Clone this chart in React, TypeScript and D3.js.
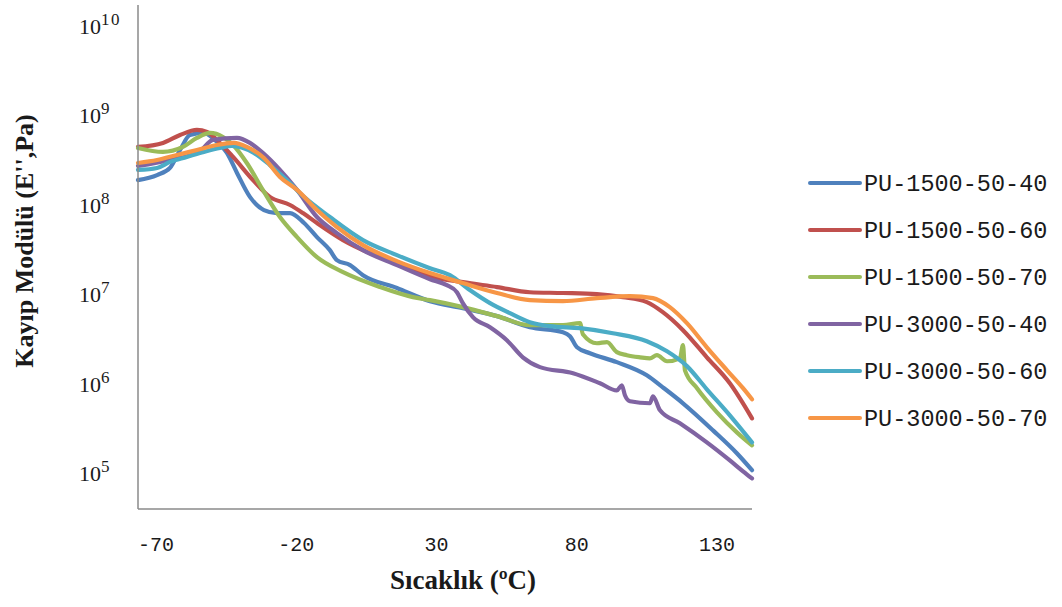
import React from 'react';
import * as d3 from 'd3';

// Loss modulus E'' (Pa) against temperature (°C) for six PU formulations
const seriesNames = [
  'PU-1500-50-40',
  'PU-1500-50-60',
  'PU-1500-50-70',
  'PU-3000-50-40',
  'PU-3000-50-60',
  'PU-3000-50-70',
];

const tempPU1500_40 = [-76.4, -69.6, -65.0, -61.4, -57.9, -52.9, -49.0, -44.7, -41.1, -36.5, -31.5, -26.9, -22.2, -17.2, -12.6, -8.0, -5.5, -0.8, 3.8, 15.9, 27.7, 39.4, 51.6, 63.3, 75.1, 77.6, 80.1, 84.7, 94.3, 105.0, 110.7, 117.9, 128.6, 137.1, 142.5];
const lossPU1500_40 = [1.88e8, 2.14e8, 2.57e8, 4.08e8, 6.0e8, 6.32e8, 5.28e8, 3.78e8, 2.26e8, 1.22e8, 8.7e7, 8.05e7, 8.05e7, 6.23e7, 4.34e7, 3.1e7, 2.4e7, 2.11e7, 1.63e7, 1.17e7, 8.35e6, 6.97e6, 5.68e6, 4.27e6, 3.76e6, 3.39e6, 2.55e6, 2.19e6, 1.74e6, 1.24e6, 9.1e5, 6.04e5, 3.01e5, 1.67e5, 1.08e5];

const tempPU1500_60 = [-76.4, -67.5, -61.4, -55.4, -51.8, -47.2, -42.5, -35.4, -29.4, -22.2, -17.6, -12.6, -3.3, 6.3, 15.9, 27.7, 39.4, 51.6, 63.3, 75.1, 87.2, 96.5, 105.0, 110.7, 117.9, 126.4, 134.6, 142.5];
const lossPU1500_60 = [4.41e8, 4.89e8, 6.0e8, 6.83e8, 6.49e8, 4.89e8, 3.41e8, 1.88e8, 1.22e8, 9.9e7, 8.05e7, 6.23e7, 4.02e7, 2.87e7, 2.22e7, 1.59e7, 1.36e7, 1.2e7, 1.05e7, 1.03e7, 1.0e7, 9.26e6, 8.14e6, 6.29e6, 3.96e6, 1.97e6, 1.01e6, 4.1e5];

const tempPU1500_70 = [-76.4, -67.5, -60.4, -55.4, -50.7, -46.1, -42.5, -37.6, -31.9, -25.8, -19.7, -12.6, -3.3, 9.9, 21.6, 27.7, 39.4, 51.6, 63.3, 75.1, 81.2, 82.2, 87.2, 90.8, 94.3, 97.9, 102.6, 106.1, 108.6, 112.2, 116.8, 117.9, 118.6, 122.9, 130.0, 137.1, 142.5];
const lossPU1500_70 = [4.3e8, 3.88e8, 4.41e8, 5.56e8, 6.32e8, 5.7e8, 4.64e8, 2.92e8, 1.46e8, 7.27e7, 4.34e7, 2.59e7, 1.76e7, 1.2e7, 9.26e6, 8.57e6, 7.16e6, 5.68e6, 4.5e6, 4.5e6, 4.74e6, 3.57e6, 2.83e6, 2.91e6, 2.25e6, 2.08e6, 1.97e6, 1.92e6, 2.08e6, 1.78e6, 1.92e6, 2.69e6, 1.41e6, 8.9e5, 4.79e5, 2.86e5, 2.05e5];

const tempPU3000_40 = [-76.4, -65.0, -54.3, -49.7, -41.1, -36.5, -31.9, -25.8, -19.7, -12.6, -5.5, 3.8, 15.9, 27.7, 33.7, 37.3, 39.4, 43.0, 49.1, 55.1, 60.8, 66.9, 78.7, 88.3, 94.3, 96.1, 97.2, 99.0, 106.1, 107.2, 109.7, 116.8, 126.4, 134.6, 139.3, 142.5];
const lossPU3000_40 = [2.7e8, 3.15e8, 3.98e8, 5.28e8, 5.56e8, 4.89e8, 3.78e8, 2.44e8, 1.46e8, 7.27e7, 4.81e7, 3.1e7, 2.11e7, 1.47e7, 1.26e7, 1.05e7, 7.93e6, 5.53e6, 4.27e6, 3.06e6, 1.97e6, 1.53e6, 1.31e6, 1.01e6, 8.4e5, 9.6e5, 7.42e5, 6.36e5, 6.04e5, 7.23e5, 5.04e5, 3.61e5, 2.21e5, 1.39e5, 1.05e5, 8.75e4];

const tempPU3000_60 = [-76.4, -69.6, -65.0, -59.0, -52.9, -47.2, -42.9, -35.1, -29.4, -23.3, -17.2, -8.0, 3.8, 15.9, 27.7, 34.8, 41.9, 49.1, 56.2, 63.3, 70.5, 81.2, 92.9, 105.0, 112.2, 119.3, 126.4, 134.6, 142.5];
const lossPU3000_60 = [2.44e8, 2.57e8, 3.0e8, 3.41e8, 3.88e8, 4.3e8, 4.52e8, 3.78e8, 2.77e8, 1.88e8, 1.22e8, 7.27e7, 4.02e7, 2.73e7, 1.95e7, 1.63e7, 1.11e7, 7.93e6, 6.13e6, 4.86e6, 4.39e6, 4.17e6, 3.66e6, 2.98e6, 2.3e6, 1.57e6, 8.66e5, 4.43e5, 2.21e5];

const tempPU3000_70 = [-76.4, -69.6, -62.5, -55.4, -48.3, -42.2, -37.6, -31.5, -25.8, -19.7, -12.6, -5.5, 3.8, 15.9, 27.7, 39.4, 51.6, 63.3, 75.1, 87.2, 99.0, 107.2, 113.2, 119.3, 126.4, 133.6, 139.3, 142.5];
const lossPU3000_70 = [2.92e8, 3.15e8, 3.59e8, 4.08e8, 4.64e8, 4.89e8, 4.41e8, 3.32e8, 2.04e8, 1.46e8, 8.7e7, 5.62e7, 3.53e7, 2.34e7, 1.72e7, 1.33e7, 1.03e7, 8.57e6, 8.35e6, 9.02e6, 9.5e6, 9.02e6, 7.16e6, 4.74e6, 2.55e6, 1.41e6, 8.9e5, 6.69e5];

const xTicks = [-70, -20, 30, 80, 130];
const yTickExponents = [5, 6, 7, 8, 9, 10];

const seriesColors = ['#4F81BD', '#C0504D', '#9BBB59', '#8064A2', '#4BACC6', '#F79646'];

const seriesTemps = [tempPU1500_40, tempPU1500_60, tempPU1500_70, tempPU3000_40, tempPU3000_60, tempPU3000_70];
const seriesLoss = [lossPU1500_40, lossPU1500_60, lossPU1500_70, lossPU3000_40, lossPU3000_60, lossPU3000_70];

const W = 1062;
const H = 607;
const plot = { left: 138, right: 752, top: 5, bottom: 509 };

export default function App() {
  const x = d3.scaleLinear().domain([-76.4, 142.5]).range([plot.left, plot.right]);
  const y = d3
    .scaleLog()
    .domain([Math.pow(10, 4.6), Math.pow(10, 10.23)])
    .range([plot.bottom, plot.top]);

  const line = d3
    .line<[number, number]>()
    .x((d) => x(d[0]))
    .y((d) => y(d[1]))
    .curve(d3.curveMonotoneX);

  const paths = seriesNames.map((name, i) => {
    const pts: [number, number][] = seriesTemps[i].map((t, j) => [t, seriesLoss[i][j]]);
    return { name, color: seriesColors[i], d: line(pts) || '' };
  });

  const legendX = 810;
  const legendY0 = 183;
  const legendStep = 47;

  return (
    <svg
      width={W}
      height={H}
      viewBox={`0 0 ${W} ${H}`}
      style={{ position: 'absolute', left: 0, top: 0, background: '#fff' }}
    >
      <rect x={0} y={0} width={W} height={H} fill="#fff" />

      {/* curves */}
      <g fill="none" strokeWidth={4.2} strokeLinejoin="round" strokeLinecap="round">
        {paths.map((p) => (
          <path key={p.name} d={p.d} stroke={p.color} />
        ))}
      </g>

      {/* axes */}
      <line x1={plot.left} x2={plot.left} y1={plot.top} y2={plot.bottom} stroke="#8a8a8a" strokeWidth={1.5} />
      <line x1={plot.left} x2={plot.right} y1={plot.bottom} y2={plot.bottom} stroke="#8a8a8a" strokeWidth={1.5} />

      {/* y tick labels */}
      <g fontFamily="'Liberation Serif', 'Times New Roman', serif" fill="#1a1a1a">
        {yTickExponents.map((e) => (
          <text key={e} x={79} y={y(Math.pow(10, e)) + 8} fontSize={22}>
            10
            <tspan fontSize={17} dy={-9} letterSpacing={1.5}>
              {e}
            </tspan>
          </text>
        ))}
      </g>

      {/* x tick labels */}
      <g fontFamily="'Liberation Mono', monospace" fill="#1a1a1a" fontSize={20} textAnchor="middle">
        {xTicks.map((t) => (
          <text key={t} x={x(t)} y={551}>
            {t}
          </text>
        ))}
      </g>

      {/* axis titles */}
      <text
        x={463}
        y={589}
        textAnchor="middle"
        fontFamily="'Liberation Serif', 'Times New Roman', serif"
        fontWeight="bold"
        fontSize={27}
        fill="#1a1a1a"
      >
        Sıcaklık (ºC)
      </text>
      <text
        transform={`translate(33, 241) rotate(-90)`}
        textAnchor="middle"
        fontFamily="'Liberation Serif', 'Times New Roman', serif"
        fontWeight="bold"
        fontSize={26}
        fill="#1a1a1a"
      >
        Kayıp Modülü (E'',Pa)
      </text>

      {/* legend */}
      <g>
        {paths.map((p, i) => (
          <g key={p.name} transform={`translate(${legendX}, ${legendY0 + i * legendStep})`}>
            <line x1={0} x2={50} y1={0} y2={0} stroke={p.color} strokeWidth={4} strokeLinecap="round" />
            <text
              x={54}
              y={8}
              fontFamily="'Liberation Mono', monospace"
              fontSize={23.5}
              fill="#1a1a1a"
            >
              {p.name}
            </text>
          </g>
        ))}
      </g>
    </svg>
  );
}
